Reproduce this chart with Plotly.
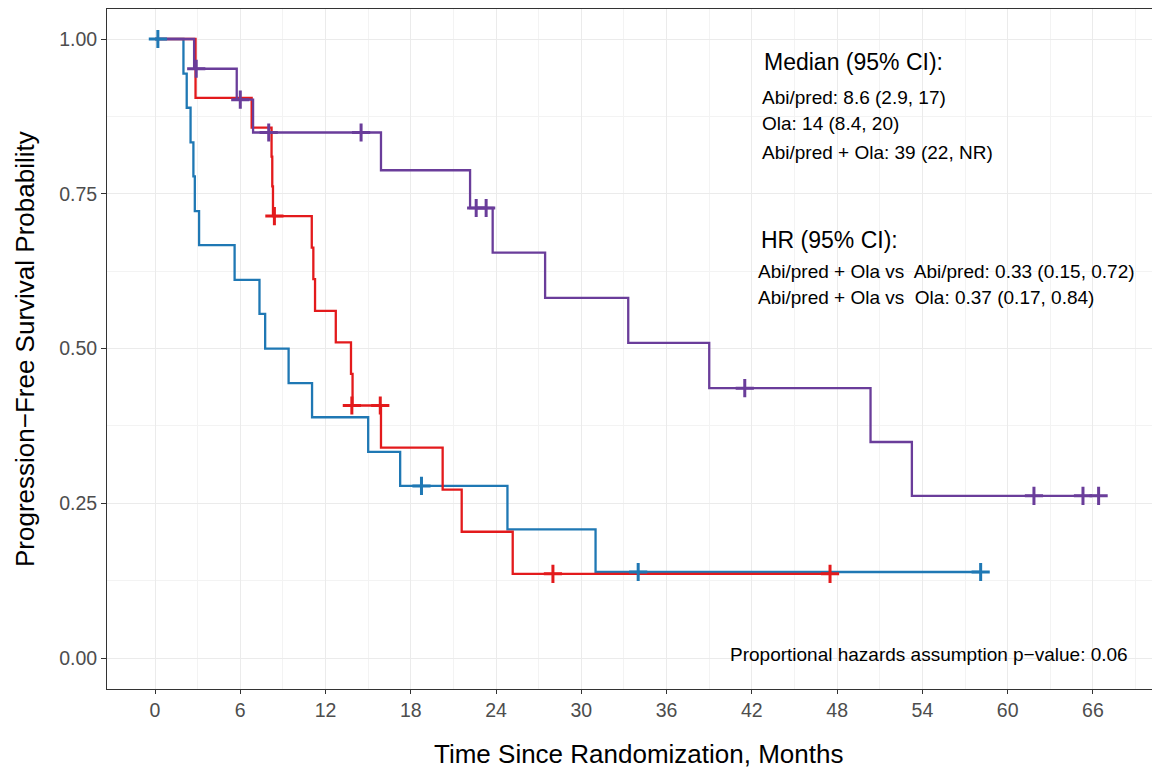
import plotly.graph_objects as go

# ---- data ----
abi_t = [0, 2.0, 2.23, 2.5, 2.7, 2.8, 3.1, 5.6, 7.35, 7.75, 9.4, 11.05, 15.0, 17.25, 24.8, 31.0, 58.1]
abi_s = [1.0, 0.944, 0.889, 0.833, 0.778, 0.722, 0.667, 0.611, 0.556, 0.5, 0.444, 0.389, 0.333, 0.278, 0.208, 0.139, 0.139]
abi_ct = [0.2, 18.75, 34.0, 58.1]
abi_cs = [1.0, 0.278, 0.139, 0.139]

ola_t = [0, 2.85, 6.8, 8.2, 8.25, 8.3, 11.03, 11.14, 11.26, 12.72, 13.79, 13.9, 15.9, 20.24, 21.58, 25.17, 47.5]
ola_s = [1.0, 0.905, 0.857, 0.810, 0.762, 0.714, 0.663, 0.612, 0.561, 0.510, 0.459, 0.408, 0.340, 0.272, 0.204, 0.136, 0.136]
ola_ct = [8.4, 13.85, 15.85, 28.0, 47.5]
ola_cs = [0.714, 0.408, 0.408, 0.136, 0.136]

combo_t = [0, 2.75, 5.75, 6.9, 15.9, 22.17, 23.76, 27.45, 33.3, 39.0, 50.35, 53.26, 66.4]
combo_s = [1.0, 0.952, 0.902, 0.849, 0.788, 0.727, 0.655, 0.582, 0.509, 0.436, 0.349, 0.262, 0.262]
combo_ct = [2.9, 6.0, 8.0, 14.5, 22.6, 23.3, 41.5, 61.85, 65.3, 66.4]
combo_cs = [0.952, 0.902, 0.849, 0.849, 0.727, 0.727, 0.436, 0.262, 0.262, 0.262]

x_ticks = [0, 6, 12, 18, 24, 30, 36, 42, 48, 54, 60, 66]
y_ticks = [0.0, 0.25, 0.5, 0.75, 1.0]
y_ticklabels = ["0.00", "0.25", "0.50", "0.75", "1.00"]

median_lines = ["Abi/pred: 8.6 (2.9, 17)", "Ola: 14 (8.4, 20)", "Abi/pred + Ola: 39 (22, NR)"]
hr_lines = ["Abi/pred + Ola vs\u00a0 Abi/pred: 0.33 (0.15, 0.72)",
            "Abi/pred + Ola vs\u00a0 Ola: 0.37 (0.17, 0.84)"]

BLUE = "#1F78B4"
RED = "#E31A1C"
PURPLE = "#6A3D9A"
FONT = "Liberation Sans, Arial, sans-serif"

# page has an 8px body margin: figure is placed at (8, 8)
W, H = 1152, 762
L, T, B, R = 99, 1, 81, 0
PW, PH = W - L - R, H - T - B

fig = go.Figure()
groups = [
    ("Abi/pred", abi_t, abi_s, abi_ct, abi_cs, BLUE),
    ("Ola", ola_t, ola_s, ola_ct, ola_cs, RED),
    ("Abi/pred + Ola", combo_t, combo_s, combo_ct, combo_cs, PURPLE),
]
for name, t, s, ct, cs, col in groups:
    fig.add_trace(go.Scatter(x=t, y=s, mode="lines", line=dict(color=col, width=2.3, shape="hv"),
                             name=name, showlegend=False, hoverinfo="skip"))
for name, t, s, ct, cs, col in groups:
    fig.add_trace(go.Scatter(x=ct, y=cs, mode="markers",
                             marker=dict(symbol="cross-thin", size=13, line=dict(color=col, width=3)),
                             name=name + " censored", showlegend=False, hoverinfo="skip"))

annotations = []
annotations.append(dict(x=42.7, y=0.963, xref="x", yref="y", text="Median (95% CI):", showarrow=False,
                        xanchor="left", yanchor="middle", font=dict(size=23, color="black", family=FONT)))
for txt, yy in zip(median_lines, [0.906, 0.864, 0.817]):
    annotations.append(dict(x=42.55, y=yy, xref="x", yref="y", text=txt, showarrow=False,
                            xanchor="left", yanchor="middle", font=dict(size=19, color="black", family=FONT)))
annotations.append(dict(x=42.5, y=0.675, xref="x", yref="y", text="HR (95% CI):", showarrow=False,
                        xanchor="left", yanchor="middle", font=dict(size=23, color="black", family=FONT)))
for txt, yy in zip(hr_lines, [0.624, 0.582]):
    annotations.append(dict(x=42.3, y=yy, xref="x", yref="y", text=txt, showarrow=False,
                            xanchor="left", yanchor="middle", font=dict(size=19, color="black", family=FONT)))
annotations.append(dict(x=68.6, y=0.0065, xref="x", yref="y",
                        text="Proportional hazards assumption p\u2212value: 0.06", showarrow=False,
                        xanchor="right", yanchor="middle", font=dict(size=19, color="black", family=FONT)))
# axis titles (positions in page pixels converted to paper coords)
annotations.append(dict(x=(638 - 8 - L) / PW, y=(T + PH - (754 - 8)) / PH, xref="paper", yref="paper",
                        text="Time Since Randomization, Months", showarrow=False,
                        xanchor="center", yanchor="middle", font=dict(size=26, color="black", family=FONT)))
annotations.append(dict(x=(25 - 8 - L) / PW, y=(T + PH - (349 - 8)) / PH, xref="paper", yref="paper",
                        text="Progression\u2212Free Survival Probability", showarrow=False, textangle=-90,
                        xanchor="center", yanchor="middle", font=dict(size=26, color="black", family=FONT)))

fig.update_layout(
    width=W, height=H,
    margin=dict(l=L, r=R, t=T, b=B, pad=0),
    paper_bgcolor="white", plot_bgcolor="white",
    annotations=annotations,
    xaxis=dict(range=[-3.38, 70.72], tickvals=x_ticks, ticktext=[str(v) for v in x_ticks],
               showgrid=True, gridcolor="#EBEBEB", gridwidth=1.2,
               minor=dict(tickvals=[3, 9, 15, 21, 27, 33, 39, 45, 51, 57, 63, 69], showgrid=True,
                          gridcolor="#F3F3F3", gridwidth=0.8, ticks=""),
               showline=True, linecolor="#333333", linewidth=1, mirror=True,
               ticks="outside", ticklen=4, tickcolor="#333333", tickwidth=1,
               tickfont=dict(size=19.5, color="#4D4D4D", family=FONT), zeroline=False),
    yaxis=dict(range=[-0.05, 1.0485], tickvals=y_ticks, ticktext=y_ticklabels,
               showgrid=True, gridcolor="#EBEBEB", gridwidth=1.2,
               minor=dict(tickvals=[0.125, 0.375, 0.625, 0.875], showgrid=True,
                          gridcolor="#F3F3F3", gridwidth=0.8, ticks=""),
               showline=True, linecolor="#333333", linewidth=1, mirror=False,
               ticks="outside", ticklen=5, tickcolor="#333333", tickwidth=1,
               tickfont=dict(size=19.5, color="#4D4D4D", family=FONT), zeroline=False),
)

fig.write_html("out.html", config={"displayModeBar": False})
